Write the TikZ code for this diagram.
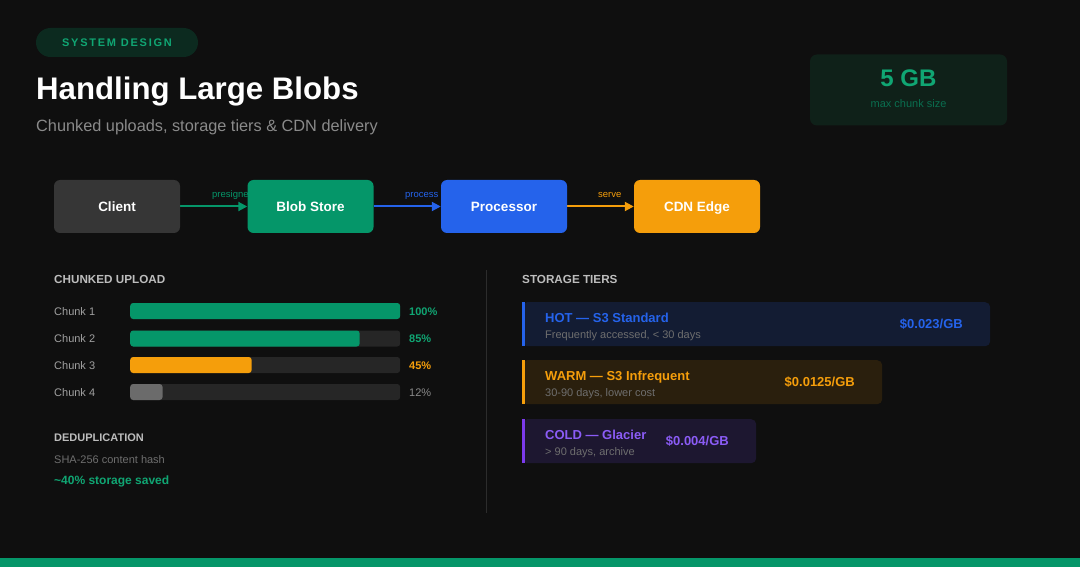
\documentclass[tikz,border=0pt]{standalone}
\usepackage{fontspec}
\setmainfont{Liberation Sans}
\newfontfamily\spaced[LetterSpace=16]{Liberation Sans}
\usetikzlibrary{arrows.meta}
\definecolor{bgdark}{HTML}{0F0F0F}
\definecolor{emerald}{HTML}{059669}
\definecolor{textgreen}{HTML}{10A673}
\definecolor{pillbg}{HTML}{0C2A1F}
\definecolor{statbg}{HTML}{0F2119}
\definecolor{statsub}{HTML}{0A6E4F}
\definecolor{clientgray}{HTML}{363636}
\definecolor{royal}{HTML}{2563EB}
\definecolor{amber}{HTML}{F59E0B}
\definecolor{violet}{HTML}{7C3AED}
\definecolor{violettext}{HTML}{8B5CF6}
\definecolor{trackgray}{HTML}{262626}
\definecolor{bargray}{HTML}{6B6B6B}
\definecolor{headgray}{HTML}{BDBDBD}
\definecolor{labelgray}{HTML}{A0A0A0}
\definecolor{subgray}{HTML}{8A8A8A}
\definecolor{dimgray}{HTML}{6E6E6E}
\definecolor{hotbg}{HTML}{131C33}
\definecolor{warmbg}{HTML}{2A1F0D}
\definecolor{coldbg}{HTML}{1D1730}
\definecolor{divgray}{HTML}{2C2C2C}
\pgfdeclarelayer{bg}
\pgfdeclarelayer{under}
\pgfsetlayers{bg,under,main}
\newcommand{\fsz}[1]{\fontsize{#1}{#1}\selectfont}

\begin{document}
\begin{tikzpicture}[x=1pt,y=-1pt,
  box/.style={rounded corners=6pt, minimum width=126pt, minimum height=53pt, inner sep=0pt, text height=9.7pt, text depth=0pt, text=white, font=\fsz{13.5}\bfseries},
  flow/.style={line width=2pt, -{Triangle[length=9pt,width=9pt]}},
  flowlbl/.style={anchor=base west, inner sep=0pt, font=\fsz{9.5}},
  txt/.style={anchor=base west, inner sep=0pt},
  price/.style={anchor=base east, inner sep=0pt, font=\fsz{13}\bfseries},
  track/.style={fill=trackgray, rounded corners=3pt, minimum width=270pt, minimum height=16pt, inner sep=0pt, anchor=west},
  bar/.style={rounded corners=3pt, minimum height=16pt, inner sep=0pt, anchor=west},
  tier/.style={rounded corners=5pt, minimum height=44pt, inner sep=0pt, anchor=north west},
  pill/.style={fill=pillbg, rounded corners=14.5pt, minimum width=162pt, minimum height=29pt, inner sep=0pt, text height=8pt, text depth=0pt, text=textgreen, font=\spaced\fsz{11}\bfseries},
]
\begin{pgfonlayer}{bg}
\fill[bgdark] (0,0) rectangle (1080,567);
\end{pgfonlayer}
\useasboundingbox (0,0) rectangle (1080,567);

\node[pill] (tag) at (117,42.5) {SYSTEM DESIGN};
\node[txt, text=white, font=\fsz{31.2}\bfseries] (title) at (36,100) {Handling Large Blobs};
\node[txt, text=subgray, font=\fsz{16.3}] (subtitle) at (36,132) {Chunked uploads, storage tiers \& CDN delivery};

\node[fill=statbg, rounded corners=7pt, minimum width=197pt, minimum height=71pt, inner sep=0pt] (stat) at (908.5,90) {};
\node[anchor=base, inner sep=0pt, text=textgreen, font=\fsz{24}\bfseries] (statval) at (908.5,87) {5 GB};
\node[anchor=base, inner sep=0pt, text=statsub, font=\fsz{11}] (statlbl) at (908.5,108) {max chunk size};

\node[box, fill=clientgray] (client) at (117,206.5) {Client};
\node[box, fill=emerald] (blob) at (310.5,206.5) {Blob Store};
\node[box, fill=royal] (proc) at (504,206.5) {Processor};
\node[box, fill=amber] (cdn) at (697,206.5) {CDN Edge};
\begin{pgfonlayer}{under}
\draw[flow, emerald] (client) -- (blob);
\draw[flow, royal] (blob) -- (proc);
\draw[flow, amber] (proc) -- (cdn);
\node[flowlbl, text=emerald] (presign) at (212,198) {presigned};
\node[flowlbl, text=royal] (process) at (405,198) {process};
\node[flowlbl, text=amber] (serve) at (598,198) {serve};
\end{pgfonlayer}

\node[txt, text=headgray, font=\fsz{11.7}\bfseries] (upload) at (54,283) {CHUNKED UPLOAD};
\node[txt, text=labelgray, font=\fsz{11}] (c1) at (54,315) {Chunk 1};
\node[txt, text=labelgray, font=\fsz{11}] (c2) at (54,342.5) {Chunk 2};
\node[txt, text=labelgray, font=\fsz{11}] (c3) at (54,369) {Chunk 3};
\node[txt, text=labelgray, font=\fsz{11}] (c4) at (54,396) {Chunk 4};
\node[track] (trk1) at (130,311) {};
\node[track] (trk2) at (130,338.5) {};
\node[track] (trk3) at (130,365) {};
\node[track] (trk4) at (130,392) {};
\node[bar, fill=emerald, minimum width=270pt] (fill1) at (130,311) {};
\node[bar, fill=emerald, minimum width=229.5pt] (fill2) at (130,338.5) {};
\node[bar, fill=amber, minimum width=121.5pt] (fill3) at (130,365) {};
\node[bar, fill=bargray, minimum width=32.4pt] (fill4) at (130,392) {};
\node[txt, text=textgreen, font=\fsz{11}\bfseries] (p1) at (409,315) {100\%};
\node[txt, text=textgreen, font=\fsz{11}\bfseries] (p2) at (409,342.5) {85\%};
\node[txt, text=amber, font=\fsz{11}\bfseries] (p3) at (409,369) {45\%};
\node[txt, text=subgray, font=\fsz{11}] (p4) at (409,396) {12\%};

\node[txt, text=headgray, font=\fsz{11}\bfseries] (dedup) at (54,441) {DEDUPLICATION};
\node[txt, text=dimgray, font=\fsz{11}] (hash) at (54,463) {SHA-256 content hash};
\node[txt, text=textgreen, font=\fsz{12}\bfseries] (saved) at (54,484) {\textasciitilde 40\% storage saved};

\draw[divgray, line width=1pt] (486,270) -- (486,513);

\node[txt, text=headgray, font=\fsz{11.7}\bfseries] (tiers) at (522,283) {STORAGE TIERS};
\node[tier, fill=hotbg, minimum width=468pt] (hot) at (522,302) {};
\fill[royal] (hot.north west) rectangle ([xshift=3pt]hot.south west);
\node[txt, text=royal, font=\fsz{13}\bfseries] (hottitle) at (545,322) {HOT \textemdash\ S3 Standard};
\node[txt, text=dimgray, font=\fsz{11}] (hotsub) at (545,338) {Frequently accessed, \textless\ 30 days};
\node[price, text=royal] (hotprice) at (963,328.5) {\$0.023/GB};

\node[tier, fill=warmbg, minimum width=360pt] (warm) at (522,360) {};
\fill[amber] (warm.north west) rectangle ([xshift=3pt]warm.south west);
\node[txt, text=amber, font=\fsz{13}\bfseries] (warmtitle) at (545,380) {WARM \textemdash\ S3 Infrequent};
\node[txt, text=dimgray, font=\fsz{11}] (warmsub) at (545,396) {30-90 days, lower cost};
\node[price, text=amber] (warmprice) at (855,386.5) {\$0.0125/GB};

\node[tier, fill=coldbg, minimum width=234pt] (cold) at (522,419) {};
\fill[violet] (cold.north west) rectangle ([xshift=3pt]cold.south west);
\node[txt, text=violettext, font=\fsz{13}\bfseries] (coldtitle) at (545,439) {COLD \textemdash\ Glacier};
\node[txt, text=dimgray, font=\fsz{11}] (coldsub) at (545,455) {\textgreater\ 90 days, archive};
\node[price, text=violettext] (coldprice) at (729,445.5) {\$0.004/GB};

\fill[emerald] (0,558) rectangle (1080,567);
\end{tikzpicture}
\end{document}
